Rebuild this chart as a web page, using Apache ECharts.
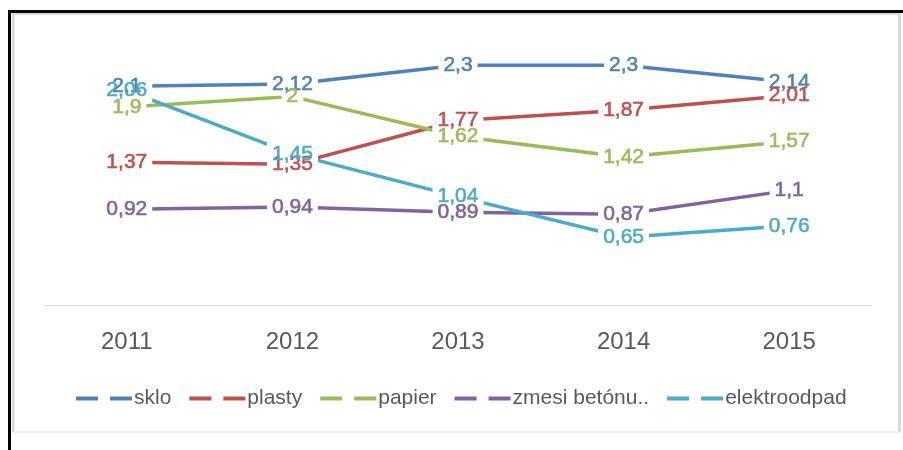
<!DOCTYPE html>
<html>
<head>
<meta charset="utf-8">
<script src="https://cdn.jsdelivr.net/npm/echarts@6/dist/echarts.min.js"></script>
<style>
  html, body { margin: 0; padding: 0; background: #fff; }
  #chart { width: 903px; height: 450px; }
</style>
</head>
<body>
<div id="chart"></div>
<script>
const years = ["2011", "2012", "2013", "2014", "2015"];
const names = ["sklo", "plasty", "papier", "zmesi betónu..", "elektroodpad"];
const sklo = [2.1, 2.12, 2.3, 2.3, 2.14];
const plasty = [1.37, 1.35, 1.77, 1.87, 2.01];
const papier = [1.9, 2, 1.62, 1.42, 1.57];
const zmesi = [0.92, 0.94, 0.89, 0.87, 1.1];
const elektro = [2.06, 1.45, 1.04, 0.65, 0.76];
const colors = ["#4F81BD", "#C0504D", "#9BBB59", "#8064A2", "#4BACC6"];

const values = [sklo, plasty, papier, zmesi, elektro];
const fmt = p => String(p.value).replace(".", ",");
const labelFont = { fontFamily: "Liberation Sans", fontSize: 21 };

const chart = echarts.init(document.getElementById("chart"));

// pass 1: lines + white label boxes that cut the lines
const lineSeries = values.map((d, i) => ({
  name: names[i],
  type: "line",
  data: d,
  symbol: "circle",
  symbolSize: 0,
  color: colors[i],
  lineStyle: { width: 3.5, color: colors[i] },
  label: {
    show: true, position: "inside", formatter: fmt,
    color: "rgba(0,0,0,0)", backgroundColor: "#fff", padding: [1, 5],
    ...labelFont
  },
  emphasis: { disabled: true },
  z: 2
}));

// pass 2: label text only, on top so overlapping labels stay visible
const textSeries = values.map((d, i) => ({
  name: names[i],
  type: "line",
  data: d,
  symbol: "circle",
  symbolSize: 0,
  color: colors[i],
  lineStyle: { opacity: 0 },
  label: {
    show: true, position: "inside", formatter: fmt, color: colors[i],
    textBorderColor: colors[i], textBorderWidth: 0.6, ...labelFont
  },
  emphasis: { disabled: true },
  z: 5
}));

chart.setOption({
  animation: false,
  grid: { left: 44, right: 31, top: 44.5, bottom: 145 },
  xAxis: {
    type: "category",
    data: years,
    axisLine: { lineStyle: { color: "#d9d9d9", width: 1 } },
    axisTick: { show: false },
    axisLabel: { color: "#595959", fontSize: 24, fontFamily: "Liberation Sans", margin: 25 }
  },
  yAxis: { type: "value", min: 0, max: 2.5, show: false, splitLine: { show: false } },
  legend: {
    data: names,
    top: 383,
    left: 71,
    icon: "path://M0,0H22V4H0Z M34,0H56V4H34Z",
    itemWidth: 56,
    itemHeight: 4,
    itemGap: 18,
    symbolKeepAspect: false,
    textStyle: { color: "#595959", fontSize: 21, fontFamily: "Liberation Sans", padding: [0, 0, 0, -3] }
  },
  graphic: [
    { type: "rect", shape: { x: 8, y: 10, width: 895, height: 3 }, style: { fill: "#000" }, silent: true },
    { type: "rect", shape: { x: 8, y: 10, width: 3, height: 440 }, style: { fill: "#000" }, silent: true },
    { type: "rect", shape: { x: 12, y: 13, width: 888, height: 2 }, style: { fill: "#d9d9d9" }, silent: true },
    { type: "rect", shape: { x: 12, y: 13, width: 2.5, height: 419 }, style: { fill: "#d9d9d9" }, silent: true },
    { type: "rect", shape: { x: 898, y: 13, width: 3, height: 419 }, style: { fill: "#d9d9d9" }, silent: true },
    { type: "rect", shape: { x: 12, y: 431.5, width: 889, height: 1 }, style: { fill: "#e6e6e6" }, silent: true }
  ],
  series: lineSeries.concat(textSeries)
});
</script>
</body>
</html>
